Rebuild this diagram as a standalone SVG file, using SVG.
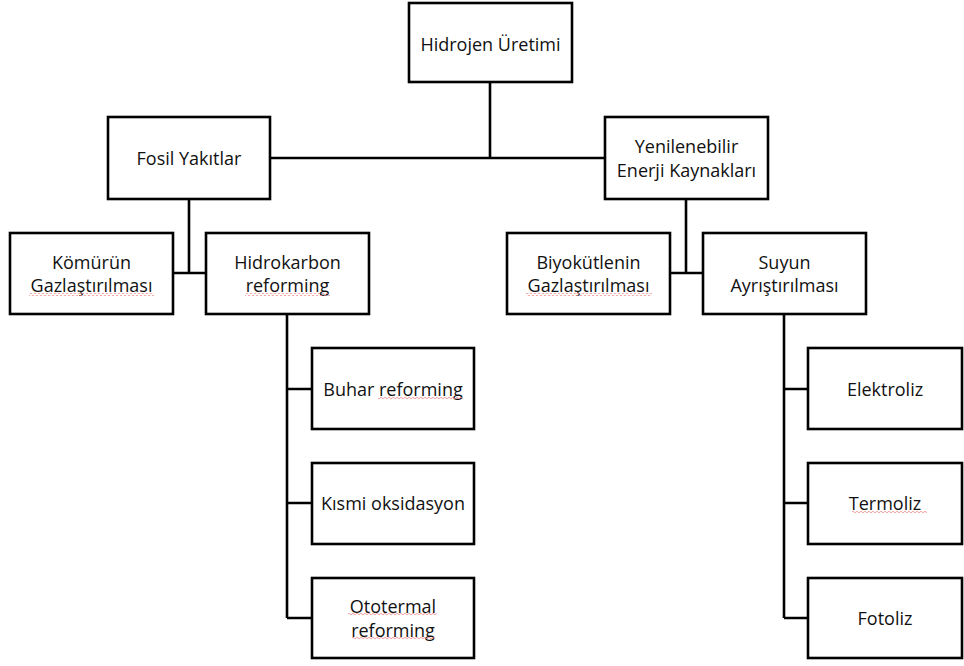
<svg xmlns="http://www.w3.org/2000/svg" width="964" height="666" viewBox="0 0 964 666">
<style>
.box{fill:#fff;stroke:#000;stroke-width:2.6}
.c{fill:none;stroke:#000;stroke-width:2.6}
text{font-family:"Open Sans","Liberation Sans",sans-serif;font-size:18px;fill:#111;text-anchor:middle;dominant-baseline:central}
.sq{fill:none;stroke:#f08a8a;stroke-width:0.8}
</style>
<defs>
<pattern id="wv" width="4" height="3" patternUnits="userSpaceOnUse"><path d="M0 2Q1 0.5 2 2T4 2" fill="none" stroke="#f08a8a" stroke-width="0.8"/></pattern>
</defs>
<g id="connectors">
<path class="c" d="M490 82V158M270 158H605"/>
<path class="c" d="M189 199V273M173 273H206"/>
<path class="c" d="M686 199V273M670 273H703"/>
<path class="c" d="M287 314V618M287 389H312M287 503H312M287 618H312"/>
<path class="c" d="M784 314V618M784 389H808M784 503H808M784 618H808"/>
</g>
<g id="n-hidrojen"><rect class="box" x="409" y="3" width="163" height="79"/><text x="490.5" y="44">Hidrojen Üretimi</text></g>
<g id="n-fosil"><rect class="box" x="108" y="117" width="162" height="82"/><text x="189" y="158">Fosil Yakıtlar</text></g>
<g id="n-yenilenebilir"><rect class="box" x="605" y="117" width="163" height="82"/><text x="686.5" y="146">Yenilenebilir</text><text x="686.5" y="170">Enerji Kaynakları</text></g>
<g id="n-komur"><rect class="box" x="10" y="233" width="163" height="81"/><text x="91.5" y="262">Kömürün</text><text x="91.5" y="285">Gazlaştırılması</text><rect x="29" y="293" width="125" height="3" fill="url(#wv)"/></g>
<g id="n-hidrokarbon"><rect class="box" x="206" y="233" width="163" height="81"/><text x="287.5" y="262">Hidrokarbon</text><text x="287.5" y="285">reforming</text><rect x="245" y="293" width="85" height="3" fill="url(#wv)"/></g>
<g id="n-biyokutle"><rect class="box" x="507" y="233" width="163" height="81"/><text x="588.5" y="262">Biyokütlenin</text><text x="588.5" y="285">Gazlaştırılması</text><rect x="526" y="293" width="126" height="3" fill="url(#wv)"/></g>
<g id="n-suyun"><rect class="box" x="703" y="233" width="163" height="81"/><text x="784.5" y="262">Suyun</text><text x="784.5" y="285">Ayrıştırılması</text></g>
<g id="n-buhar"><rect class="box" x="312" y="348" width="162" height="81"/><text x="393" y="389">Buhar reforming</text><rect x="378" y="396" width="85" height="3" fill="url(#wv)"/></g>
<g id="n-kismi"><rect class="box" x="312" y="463" width="162" height="81"/><text x="393" y="503">Kısmi oksidasyon</text></g>
<g id="n-ototermal"><rect class="box" x="312" y="578" width="162" height="80"/><text x="393" y="606">Ototermal</text><text x="393" y="630">reforming</text><rect x="348" y="613" width="89" height="3" fill="url(#wv)"/><rect x="352" y="637" width="83" height="3" fill="url(#wv)"/></g>
<g id="n-elektroliz"><rect class="box" x="808" y="348" width="154" height="81"/><text x="885" y="389">Elektroliz</text></g>
<g id="n-termoliz"><rect class="box" x="808" y="463" width="154" height="81"/><text x="885" y="503">Termoliz</text><rect x="852" y="510" width="75" height="3" fill="url(#wv)"/></g>
<g id="n-fotoliz"><rect class="box" x="808" y="578" width="154" height="80"/><text x="885" y="618">Fotoliz</text></g>
</svg>
